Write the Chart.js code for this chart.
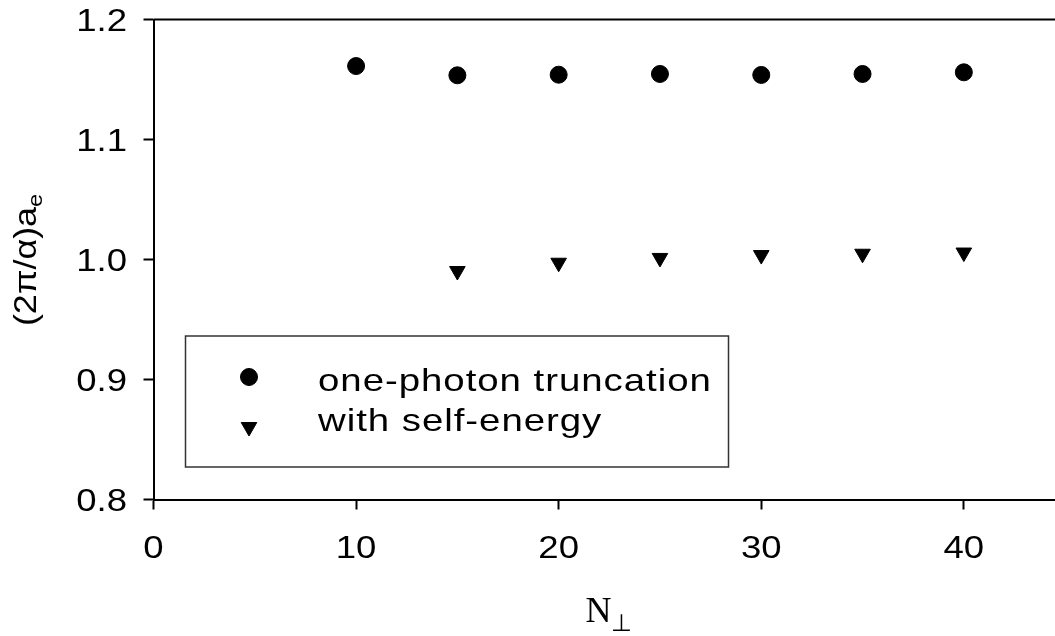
<!DOCTYPE html>
<html>
<head>
<meta charset="utf-8">
<script src="https://cdn.jsdelivr.net/npm/chart.js@4/dist/chart.umd.min.js"></script>
<style>
  html, body { margin: 0; padding: 0; background: #fff; overflow: hidden; }
  canvas { display: block; }
</style>
</head>
<body>
<canvas id="chart" width="1055" height="636"></canvas>
<script>
// Data
const nPerp = [10, 15, 20, 25, 30, 35, 40];
const onePhoton = [1.1612, 1.1535, 1.1540, 1.1546, 1.1538, 1.1546, 1.1560];
const nPerpSelf = [15, 20, 25, 30, 35, 40];
const selfEnergy = [0.9904, 0.9973, 1.0013, 1.0037, 1.0048, 1.0058];
const seriesLabels = ['one-photon truncation', 'with self-energy'];
const xTicks = [0, 10, 20, 30, 40];
const yTicks = [0.8, 0.9, 1.0, 1.1, 1.2];

const SANS = '"Liberation Sans", Arial, sans-serif';
const SERIF = '"Liberation Serif", "Times New Roman", serif';
const STRETCH = 1.18; // the original text is drawn wide

function toPoints(xs, ys) {
    return xs.map((x, i) => ({ x: x, y: ys[i] }));
}

// Draw text squeezed/stretched horizontally by k
function wideText(ctx, text, x, y, align, font, k) {
    ctx.save();
    ctx.font = font;
    const w = ctx.measureText(text).width * k;
    let left = x;
    if (align === 'right') left = x - w;
    if (align === 'center') left = x - w / 2;
    ctx.translate(left, y);
    ctx.scale(k, 1);
    ctx.textAlign = 'left';
    ctx.textBaseline = 'alphabetic';
    ctx.fillText(text, 0, 0);
    ctx.restore();
    return w;
}

// Tick labels, top frame line, axis titles and the boxed legend
const decorPlugin = {
    id: 'decor',
    afterDraw(chart) {
        const ctx = chart.ctx;
        const area = chart.chartArea;
        const xs = chart.scales.x;
        const ys = chart.scales.y;
        ctx.save();
        ctx.fillStyle = '#000';

        // top border
        ctx.strokeStyle = '#000';
        ctx.lineWidth = 2;
        ctx.beginPath();
        ctx.moveTo(area.left, area.top);
        ctx.lineTo(area.right, area.top);
        ctx.stroke();

        // tick labels
        const tickFont = '31px ' + SANS;
        ys.ticks.forEach(t => {
            wideText(ctx, t.value.toFixed(1), 127, ys.getPixelForValue(t.value) + 11,
                'right', tickFont, STRETCH);
        });
        xs.ticks.forEach(t => {
            wideText(ctx, String(t.value), xs.getPixelForValue(t.value), 558,
                'center', tickFont, STRETCH);
        });

        // y title: (2π/α)a with subscript e
        ctx.save();
        ctx.translate(36, 260);
        ctx.rotate(-Math.PI / 2);
        ctx.font = '32px ' + SANS;
        const main = '(2π/α)a';
        const w1 = ctx.measureText(main).width * 1.12;
        ctx.font = '21px ' + SANS;
        const w2 = ctx.measureText('e').width * 1.12;
        const x0 = -(w1 + w2) / 2;
        wideText(ctx, main, x0, 0, 'left', '32px ' + SANS, 1.12);
        wideText(ctx, 'e', x0 + w1, 6, 'left', '21px ' + SANS, 1.12);
        ctx.restore();

        // x title: N with subscript ⊥
        ctx.textBaseline = 'alphabetic';
        ctx.textAlign = 'left';
        ctx.font = '36px ' + SERIF;
        const nw = ctx.measureText('N').width;
        ctx.font = '24px ' + SERIF;
        const pw = ctx.measureText('⊥').width;
        const nx = 609 - (nw + pw) / 2;
        ctx.font = '36px ' + SERIF;
        ctx.fillText('N', nx, 622);
        ctx.font = '24px ' + SERIF;
        ctx.fillText('⊥', nx + nw, 631);

        // legend box
        ctx.strokeStyle = '#333';
        ctx.lineWidth = 1.5;
        ctx.strokeRect(185.5, 336, 543, 131);

        const rows = [377, 427];
        const textBase = [391, 431];
        chart.data.datasets.forEach((ds, i) => {
            ctx.fillStyle = '#000';
            ctx.strokeStyle = '#000';
            ctx.lineWidth = 1;
            Chart.helpers.drawPoint(ctx, {
                pointStyle: ds.pointStyle,
                radius: ds.pointRadius,
                rotation: ds.pointRotation || 0,
                borderWidth: 1
            }, 249, rows[i]);
            ctx.letterSpacing = '0.8px';
            wideText(ctx, ds.label, 318, textBase[i], 'left', '32px ' + SANS, 1.2);
            ctx.letterSpacing = '0px';
        });

        ctx.restore();
    }
};

new Chart(document.getElementById('chart'), {
    type: 'scatter',
    data: {
        datasets: [{
            label: seriesLabels[0],
            data: toPoints(nPerp, onePhoton),
            pointStyle: 'circle',
            pointRadius: 8.5,
            pointBackgroundColor: '#000',
            pointBorderColor: '#000',
            pointBorderWidth: 1
        }, {
            label: seriesLabels[1],
            data: toPoints(nPerpSelf, selfEnergy),
            pointStyle: 'triangle',
            pointRotation: 180,
            pointRadius: 9,
            pointBackgroundColor: '#000',
            pointBorderColor: '#000',
            pointBorderWidth: 1
        }]
    },
    options: {
        responsive: false,
        animation: false,
        devicePixelRatio: 1,
        layout: { autoPadding: false, padding: { top: 19.5, right: 0, left: 0, bottom: 0 } },
        plugins: {
            legend: { display: false },
            tooltip: { enabled: false }
        },
        scales: {
            x: {
                type: 'linear',
                min: 0,
                max: 44.5,
                afterBuildTicks: s => { s.ticks = xTicks.map(v => ({ value: v })); },
                afterFit: s => { s.height = 136.5; },
                ticks: { display: false },
                grid: {
                    drawOnChartArea: false,
                    drawTicks: true,
                    tickLength: 10,
                    tickColor: '#000',
                    tickWidth: 2
                },
                border: { display: true, color: '#000', width: 2 }
            },
            y: {
                type: 'linear',
                min: 0.8,
                max: 1.2,
                afterBuildTicks: s => { s.ticks = yTicks.map(v => ({ value: v })); },
                afterFit: s => { s.width = 153.5; },
                ticks: { display: false },
                grid: {
                    drawOnChartArea: false,
                    drawTicks: true,
                    tickLength: 10,
                    tickColor: '#000',
                    tickWidth: 2
                },
                border: { display: true, color: '#000', width: 2 }
            }
        }
    },
    plugins: [decorPlugin]
});
</script>
</body>
</html>
